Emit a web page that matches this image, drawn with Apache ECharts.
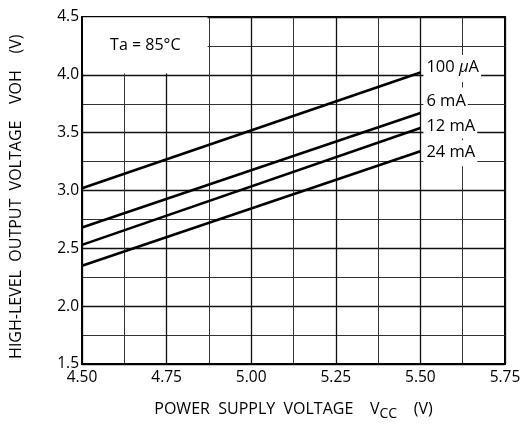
<!DOCTYPE html>
<html><head><meta charset="utf-8">
<script src="https://cdn.jsdelivr.net/npm/echarts@6/dist/echarts.min.js"></script>
<style>html,body{margin:0;padding:0;background:#fff}#c{width:526px;height:426px}</style>
</head><body><div id="c"></div>
<script>
// ---- data ----
const seriesNames = ['100 μA', '6 mA', '12 mA', '24 mA'];
const vcc = [4.50, 5.50];
const voh100uA = [3.02, 4.02];
const voh6mA = [2.68, 3.67];
const voh12mA = [2.53, 3.54];
const voh24mA = [2.35, 3.34];
const xTickLabels = ['4.50', '4.75', '5.00', '5.25', '5.50', '5.75'];
const yTickLabels = ['1.5', '2.0', '2.5', '3.0', '3.5', '4.0', '4.5'];
const noteText = 'Ta = 85°C';

const FONT = 'Open Sans';
const chart = echarts.init(document.getElementById('c'), null, {renderer: 'canvas'});

function pts(ys) { return vcc.map((x, i) => [x, ys[i]]); }

const labelStyles = [
  {fmt: '100 {mu|μ}A', offset: [0, -4], padding: [4, 2, 6, 3]},
  {fmt: '6 mA', offset: [0, -12], padding: [5, 2, 5, 3]},
  {fmt: '12 mA', offset: [0, -2], padding: [4, 2, 4, 3]},
  {fmt: '24 mA', offset: [0, 2], padding: [4, 2, 5, 3]}
];
const allY = [voh100uA, voh6mA, voh12mA, voh24mA];

const series = allY.map((ys, i) => ({
  name: seriesNames[i],
  type: 'line',
  data: pts(ys),
  showSymbol: false,
  symbol: 'none',
  lineStyle: {color: '#000', width: 2.6},
  endLabel: {
    show: true,
    formatter: labelStyles[i].fmt,
    distance: 3,
    offset: labelStyles[i].offset,
    padding: labelStyles[i].padding,
    backgroundColor: '#fff',
    color: '#000',
    fontFamily: FONT,
    fontSize: 16.5,
    rich: {mu: {fontStyle: 'italic', fontFamily: FONT, fontSize: 16.5, color: '#000'}}
  }
}));

series[0].markArea = {
  silent: true,
  itemStyle: {color: '#fff', opacity: 1},
  label: {show: true, position: 'inside', formatter: noteText, color: '#000', fontFamily: FONT, fontSize: 16},
  data: [[{xAxis: 4.503, yAxis: 4.012}, {xAxis: 4.871, yAxis: 4.497}]]
};

const option = {
  animation: false,
  backgroundColor: '#fff',
  grid: {left: 81, top: 17, right: 21, bottom: 58, show: true, borderColor: '#000', borderWidth: 2, backgroundColor: 'transparent'},
  xAxis: {
    type: 'value', min: 4.5, max: 5.75, interval: 0.25,
    axisLine: {show: true, lineStyle: {color: '#000', width: 2}},
    axisTick: {show: false},
    axisLabel: {margin: 6, color: '#000', fontFamily: FONT, fontSize: 15.5,
      formatter: v => xTickLabels[Math.round((v - 4.5) / 0.25)]},
    splitLine: {show: true, lineStyle: {color: '#111', width: 1.3}},
    minorTick: {show: false, splitNumber: 2},
    minorSplitLine: {show: true, lineStyle: {color: '#333', width: 1}},
    name: 'POWER  SUPPLY  VOLTAGE    V{sub|CC}    (V)',
    nameLocation: 'middle', nameGap: 33,
    nameTextStyle: {color: '#000', fontFamily: FONT, fontSize: 16,
      rich: {sub: {fontFamily: FONT, fontSize: 14, color: '#000', padding: [10, 0, 0, 0]}}}
  },
  yAxis: {
    type: 'value', min: 1.5, max: 4.5, interval: 0.5,
    axisLine: {show: true, lineStyle: {color: '#000', width: 2}},
    axisTick: {show: false},
    axisLabel: {margin: 3, color: '#000', fontFamily: FONT, fontSize: 15.5,
      formatter: v => yTickLabels[Math.round((v - 1.5) / 0.5)]},
    splitLine: {show: true, lineStyle: {color: '#111', width: 1.3}},
    minorTick: {show: false, splitNumber: 2},
    minorSplitLine: {show: true, lineStyle: {color: '#333', width: 1}},
    name: 'HIGH-LEVEL  OUTPUT  VOLTAGE    VOH    (V)   ',
    nameLocation: 'middle', nameGap: 58, nameRotate: 90,
    nameTextStyle: {color: '#000', fontFamily: FONT, fontSize: 16}
  },
  series: series
};
chart.setOption(option);
</script>
</body></html>
